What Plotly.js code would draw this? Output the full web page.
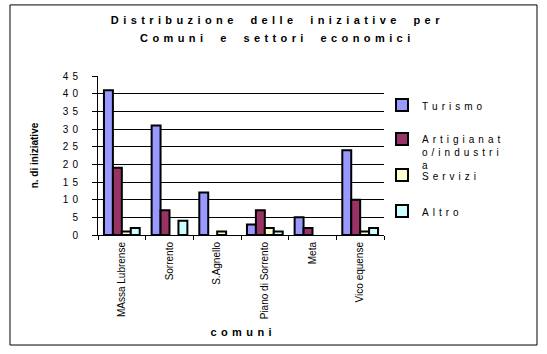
<!DOCTYPE html>
<html><head><meta charset="utf-8">
<script src="https://cdn.plot.ly/plotly-3.0.1.min.js"></script>
<style>html,body{margin:0;padding:0;background:#fff}</style>
</head><body><div id="chart" style="width:547px;height:354px"></div>
<script>
const comuni = ["MAssa Lubrense", "Sorrento", "S.Agnello", "Piano di Sorrento", "Meta", "Vico equense"];
const settori = ["Turismo", "Artigianat|o/industri|a", "Servizi", "Altro"];
const turismo = [41, 31, 12, 3, 5, 24];
const artigianato = [19, 7, 0, 7, 2, 10];
const servizi = [1, 0, 1, 2, 0, 1];
const altro = [2, 4, 0, 1, 0, 2];
const colori = ["#9999FF", "#993366", "#FFFFCC", "#CCFFFF"];
const yTickVals = [0, 5, 10, 15, 20, 25, 30, 35, 40, 45];
const titolo = ["Distribuzione delle iniziative per", "Comuni e settori economici"];
const titoloY = "n. di iniziative";
const titoloX = "comuni";

const SEP = "\u2009\u2009";
const WSEP = "\u00A0\u00A0\u2009\u2009\u2009\u2009\u2009";
function spaced(s) {
  return s.split("|").map(line =>
    line.split(" ").map(w => w.split("").join(SEP)).join(WSEP)
  ).join("<br>");
}

const serie = [turismo, artigianato, servizi, altro];
const font = "Liberation Sans, Arial, sans-serif";
const legendIds = ["legend", "legend2", "legend3", "legend4"];
const traces = serie.map((vals, i) => ({
  type: "bar",
  x: comuni,
  y: vals,
  name: spaced(settori[i]),
  legend: legendIds[i],
  marker: {color: colori[i], line: {color: "#000", width: vals.map(v => v > 0 ? 2 : 0)}},
  hoverinfo: "x+y"
}));

const legendTops = [0.899, 0.686, 0.459, 0.233];
function legendAt(y) {
  return {
    x: 0.993, xanchor: "left", y: y, yanchor: "top", valign: "top",
    font: {family: font, size: 10, color: "#000"},
    bgcolor: "rgba(0,0,0,0)", borderwidth: 0
  };
}

const titleText = titolo.map(t => '<span style="font-size:11px">' + spaced(t) + '</span>').join("<br>");

const layout = {
  width: 547, height: 354,
  margin: {l: 98, r: 163, t: 76, b: 119},
  paper_bgcolor: "#fff", plot_bgcolor: "#fff",
  font: {family: font, size: 10, color: "#000"},
  title: {
    text: titleText,
    font: {family: font, size: 14, weight: "bold", color: "#000"},
    x: 0.503, xanchor: "center", yref: "container", y: 0.933, yanchor: "top"
  },
  barmode: "group",
  bargap: 0.25, bargroupgap: 0,
  showlegend: true,
  legend: legendAt(legendTops[0]),
  legend2: legendAt(legendTops[1]),
  legend3: legendAt(legendTops[2]),
  legend4: legendAt(legendTops[3]),
  xaxis: {
    type: "category",
    showline: true, linecolor: "#000", linewidth: 1,
    ticks: "outside", ticklen: 4, tickcolor: "#000", tickson: "boundaries",
    tickangle: -90, tickfont: {family: font, size: 10}, ticklabelstandoff: 2,
    showgrid: false, automargin: false,
    title: {text: spaced(titoloX), font: {family: font, size: 11, weight: "bold"}, standoff: 10}
  },
  yaxis: {
    range: [0, 45], autorange: false,
    tickvals: yTickVals, ticktext: yTickVals.map(v => spaced(String(v))),
    showline: true, linecolor: "#000", linewidth: 1,
    ticks: "outside", ticklen: 5, tickcolor: "#000", ticklabelstandoff: 12,
    showgrid: true, gridcolor: "#000", gridwidth: 1,
    zeroline: false, automargin: false,
    tickfont: {family: font, size: 10},
    title: {text: titoloY, font: {family: font, size: 10, weight: "bold"}, standoff: 22}
  },
  shapes: [
    {type: "rect", xref: "paper", yref: "paper", x0: -0.3077, x1: 1.535, y0: -0.692, y1: 1.447,
     line: {color: "#000", width: 1}, fillcolor: "rgba(0,0,0,0)", layer: "below"},
    {type: "line", xref: "paper", yref: "y", x0: 0.003, x1: 1.01, y0: 45, y1: 45,
     line: {color: "#fff", width: 2}, layer: "above"}
  ]
};

Plotly.newPlot("chart", traces, layout, {displayModeBar: false, staticPlot: true});
</script>
</body></html>
